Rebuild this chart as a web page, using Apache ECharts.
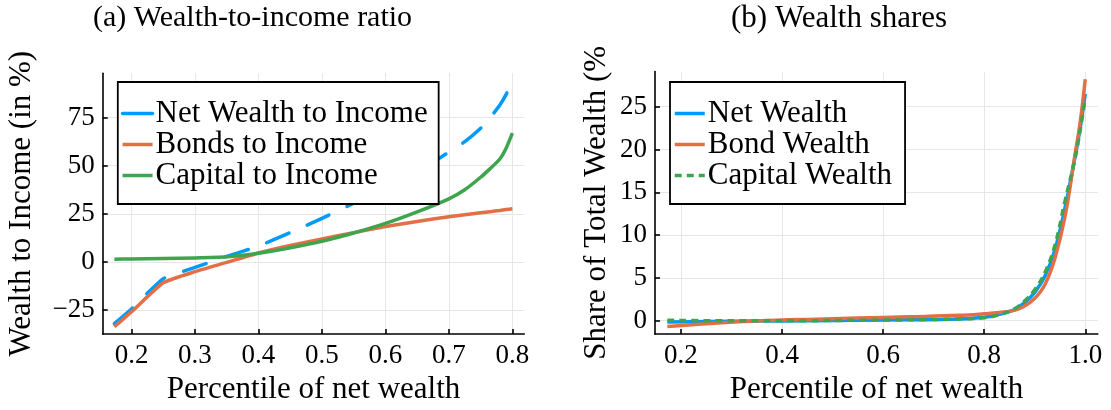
<!DOCTYPE html>
<html>
<head>
<meta charset="utf-8">
<script src="https://cdn.jsdelivr.net/npm/echarts@6/dist/echarts.min.js"></script>
<style>
  html, body { margin: 0; padding: 0; background: #fff; }
  #chart { width: 1111px; height: 410px; }
</style>
</head>
<body>
<div id="chart"></div>
<script>
// (a) wealth-to-income ratio, by percentile of net wealth
const pctA = [0.173, 0.2, 0.25, 0.3, 0.35, 0.4, 0.45, 0.5, 0.55, 0.6, 0.65, 0.7, 0.725, 0.75, 0.765, 0.78, 0.79, 0.8];
const netToIncome = [-32.1, -24.5, -8.8, -2.9, 2.8, 8.2, 15.2, 22.6, 30.5, 38, 46.5, 57.1, 62.5, 69.5, 75, 81.5, 87, 94.2];
const bondsToIncome = [-33.8, -26, -10.9, -5.1, -0.3, 4.6, 8.5, 11.9, 15.2, 18.4, 21, 23.5, 24.5, 25.5, 26.1, 26.7, 27.2, 27.6];
const capitalToIncome = [1.4, 1.5, 1.8, 2.0, 2.6, 4.5, 7.3, 10.7, 15, 20, 26, 32.8, 37.5, 44, 48.5, 53.4, 59, 67];

// (b) wealth shares
const pctB = [0.173, 0.25, 0.35, 0.45, 0.55, 0.65, 0.75, 0.8, 0.83, 0.86, 0.88, 0.9, 0.92, 0.94, 0.96, 0.98, 0.99, 1.0];
const netShare = [-0.15, -0.1, -0.05, 0.0, 0.05, 0.1, 0.2, 0.4, 0.75, 1.3, 2.1, 3.3, 5.2, 8.3, 13.2, 19.2, 22.5, 26.5];
const bondShare = [-0.69, -0.35, -0.05, 0.15, 0.3, 0.45, 0.62, 0.8, 0.95, 1.2, 1.7, 2.6, 4.2, 7.3, 12.2, 19.5, 23.2, 28.2];
const capitalShare = [0.05, 0.0, 0.0, 0.0, 0.05, 0.1, 0.2, 0.35, 0.7, 1.4, 2.3, 3.6, 5.6, 8.8, 14.0, 19.0, 22.3, 26.0];

// tick labels
const xTicksA = [0.2, 0.3, 0.4, 0.5, 0.6, 0.7, 0.8];
const yTicksA = [-25, 0, 25, 50, 75];
const xTicksB = [0.2, 0.4, 0.6, 0.8, 1.0];
const yTicksB = [0, 5, 10, 15, 20, 25];

const BLUE = '#009afa', ORANGE = '#e36f47', GREEN = '#3ea44e';
const FONT = 'Liberation Serif';
const LW = 3.5;

const chart = echarts.init(document.getElementById('chart'));

const zip = (xs, ys) => xs.map((x, i) => [x, ys[i]]);
const minus = v => (v < 0 ? '\u2212' + Math.abs(v) : String(v));

function xAxisCfg(gridIndex, min, max, ticks, name) {
  return {
    type: 'value', gridIndex, min, max,
    name, nameLocation: 'middle', nameGap: 38,
    nameTextStyle: { fontFamily: FONT, fontSize: 31, color: '#000' },
    axisLine: { show: true, onZero: false, lineStyle: { color: '#000', width: 1.6 } },
    axisTick: { show: true, inside: true, length: 5, customValues: ticks, lineStyle: { color: '#000', width: 1.6 } },
    axisLabel: { customValues: ticks, formatter: v => v.toFixed(1), fontFamily: FONT, fontSize: 27, color: '#000', margin: 8 },
    splitLine: { show: true, lineStyle: { color: '#e6e6e6', width: 1 } }
  };
}

function yAxisCfg(gridIndex, min, max, ticks, name, nameGap) {
  return {
    type: 'value', gridIndex, min, max,
    name, nameLocation: 'middle', nameGap,
    nameTextStyle: { fontFamily: FONT, fontSize: 31, color: '#000' },
    axisLine: { show: true, onZero: false, lineStyle: { color: '#000', width: 1.6 } },
    axisTick: { show: true, inside: true, length: 5, customValues: ticks, lineStyle: { color: '#000', width: 1.6 } },
    axisLabel: { customValues: ticks, formatter: minus, fontFamily: FONT, fontSize: 27, color: '#000', margin: 8 },
    splitLine: { show: true, lineStyle: { color: '#e6e6e6', width: 1 } }
  };
}

function line(name, xi, data, color, smooth, type) {
  return {
    name, type: 'line', xAxisIndex: xi, yAxisIndex: xi,
    data, showSymbol: false, symbol: 'none', smooth,
    lineStyle: { color, width: LW, type: type || 'solid', cap: type ? 'round' : 'butt', join: 'round' },
    itemStyle: { color },
    emphasis: { disabled: true }
  };
}

function legendCfg(left, names, padRight) {
  return {
    orient: 'vertical', left, top: 82,
    data: names,
    itemWidth: 30, itemHeight: 14, itemGap: 0,
    padding: [16, padRight, 13, 3],
    borderColor: '#000', borderWidth: 1.8, borderRadius: 0,
    backgroundColor: '#fff',
    lineStyle: { width: LW },
    itemStyle: { opacity: 0 },
    textStyle: { fontFamily: FONT, fontSize: 31, color: '#000', lineHeight: 30, padding: [0, 0, 0, -2] },
    selectedMode: false
  };
}

const option = {
  animation: false,
  backgroundColor: '#fff',
  graphic: [
    { type: 'text', left: 250 - 157, top: 3, style: { text: '(a) Wealth-to-income ratio', font: '30px "Liberation Serif"', fill: '#000' } },
    { type: 'text', left: 731, top: 3, style: { text: '(b) Wealth shares', font: '31px "Liberation Serif"', fill: '#000' } }
  ],
  grid: [
    { left: 102.7, top: 73.3, width: 421.6, height: 266 },
    { left: 655, top: 71.6, width: 442.8, height: 267.7 }
  ],
  xAxis: [
    xAxisCfg(0, 0.1546, 0.8188, xTicksA, 'Percentile of net wealth'),
    xAxisCfg(1, 0.1486, 1.0248, xTicksB, 'Percentile of net wealth')
  ],
  yAxis: [
    yAxisCfg(0, -37.6, 98.1, yTicksA, 'Wealth to Income (in %)', 65),
    yAxisCfg(1, -1.57, 29.1, yTicksB, 'Share of Total Wealth (%', 43)
  ],
  legend: [
    legendCfg(117.8, [
      { name: 'Net Wealth to Income', lineStyle: { type: 'solid' } },
      'Bonds to Income', 'Capital to Income'], 11),
    legendCfg(670, ['Net Wealth', 'Bond Wealth', 'Capital Wealth'], 13)
  ],
  series: [
    line('Net Wealth to Income', 0, zip(pctA, netToIncome), BLUE, 0.15, [24, 20]),
    line('Bonds to Income', 0, zip(pctA, bondsToIncome), ORANGE, 0.15),
    line('Capital to Income', 0, zip(pctA, capitalToIncome), GREEN, 0.15),
    line('Net Wealth', 1, zip(pctB, netShare), BLUE, 0.4),
    line('Bond Wealth', 1, zip(pctB, bondShare), ORANGE, 0.4),
    Object.assign(line('Capital Wealth', 1, zip(pctB, capitalShare), GREEN, 0.4), {
      lineStyle: { color: GREEN, width: LW, type: [7, 5], cap: 'butt' }
    })
  ]
};

chart.setOption(option);
</script>
</body>
</html>
